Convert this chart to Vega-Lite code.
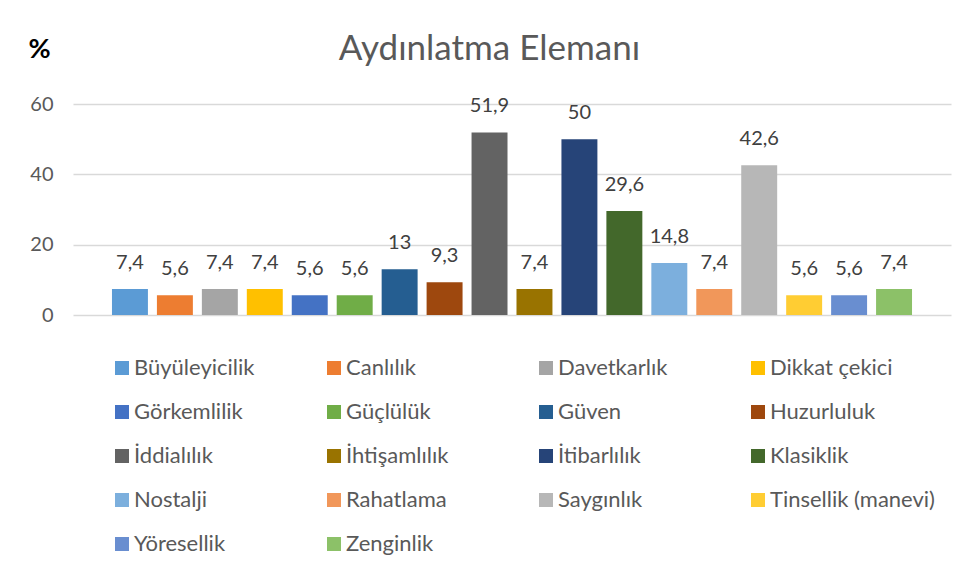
{
  "$schema": "https://vega.github.io/schema/vega-lite/v6.json",
  "width": 878,
  "height": 211,
  "autosize": {"type": "none"},
  "padding": {"left": 73, "top": 104, "right": 7, "bottom": 268},
  "background": "white",
  "config": {
    "font": "Lato",
    "view": {"stroke": null},
    "locale": {"number": {"decimal": ",", "thousands": ".", "grouping": [3], "currency": ["", " TL"]}}
  },
  "title": {
    "text": "Aydınlatma Elemanı",
    "anchor": "middle",
    "frame": "bounds",
    "fontSize": 35,
    "fontWeight": "normal",
    "color": "#595959",
    "font": "Lato",
    "dy": 36
  },
  "data": {
    "values": [
      {"kategori": "Büyüleyicilik", "yuzde": 7.4},
      {"kategori": "Canlılık", "yuzde": 5.6},
      {"kategori": "Davetkarlık", "yuzde": 7.4},
      {"kategori": "Dikkat çekici", "yuzde": 7.4},
      {"kategori": "Görkemlilik", "yuzde": 5.6},
      {"kategori": "Güçlülük", "yuzde": 5.6},
      {"kategori": "Güven", "yuzde": 13},
      {"kategori": "Huzurluluk", "yuzde": 9.3},
      {"kategori": "İddialılık", "yuzde": 51.9},
      {"kategori": "İhtişamlılık", "yuzde": 7.4},
      {"kategori": "İtibarlılık", "yuzde": 50},
      {"kategori": "Klasiklik", "yuzde": 29.6},
      {"kategori": "Nostalji", "yuzde": 14.8},
      {"kategori": "Rahatlama", "yuzde": 7.4},
      {"kategori": "Saygınlık", "yuzde": 42.6},
      {"kategori": "Tinsellik (manevi)", "yuzde": 5.6},
      {"kategori": "Yöresellik", "yuzde": 5.6},
      {"kategori": "Zenginlik", "yuzde": 7.4}
    ]
  },
  "encoding": {
    "x": {
      "field": "kategori",
      "type": "nominal",
      "sort": null,
      "axis": null,
      "scale": {"paddingInner": 0.2, "paddingOuter": 0.867}
    },
    "y": {
      "field": "yuzde",
      "type": "quantitative",
      "scale": {"domain": [0, 60]},
      "axis": {
        "values": [0, 20, 40, 60],
        "title": "%",
        "titleAngle": 0,
        "titleX": -34,
        "titleY": -47,
        "titleAlign": "center",
        "titleBaseline": "alphabetic",
        "titleFontSize": 27,
        "titleFontWeight": "bold",
        "titleColor": "#000000",
        "labelFontSize": 20,
        "labelColor": "#595959",
        "labelPadding": 20,
        "ticks": false,
        "domain": false,
        "grid": true,
        "gridColor": "#D9D9D9",
        "gridWidth": 1.3
      }
    }
  },
  "layer": [
    {
      "mark": {"type": "bar"},
      "encoding": {
        "color": {
          "field": "kategori",
          "type": "nominal",
          "sort": null,
          "scale": {
            "domain": ["Büyüleyicilik", "Canlılık", "Davetkarlık", "Dikkat çekici", "Görkemlilik", "Güçlülük", "Güven", "Huzurluluk", "İddialılık", "İhtişamlılık", "İtibarlılık", "Klasiklik", "Nostalji", "Rahatlama", "Saygınlık", "Tinsellik (manevi)", "Yöresellik", "Zenginlik"],
            "range": ["#5B9BD5", "#ED7D31", "#A5A5A5", "#FFC000", "#4472C4", "#70AD47", "#255E91", "#9E480E", "#636363", "#997300", "#264478", "#43682B", "#7CAFDD", "#F1975A", "#B7B7B7", "#FFCD33", "#698ED0", "#8CC168"]
          },
          "legend": {
            "title": null,
            "orient": "none",
            "direction": "horizontal",
            "legendX": 38,
            "legendY": 253,
            "columns": 4,
            "gridAlign": "all",
            "columnPadding": 24,
            "rowPadding": 22,
            "symbolType": "square",
            "symbolSize": 196,
            "symbolStrokeWidth": 0,
            "labelOffset": 1,
            "labelFontSize": 22,
            "labelColor": "#595959",
            "labelLimit": 300
          }
        }
      }
    },
    {
      "mark": {"type": "text", "baseline": "alphabetic", "dy": -20, "fontSize": 20, "color": "#404040"},
      "encoding": {
        "text": {"field": "yuzde", "type": "quantitative", "format": ".3~r"}
      }
    }
  ]
}
